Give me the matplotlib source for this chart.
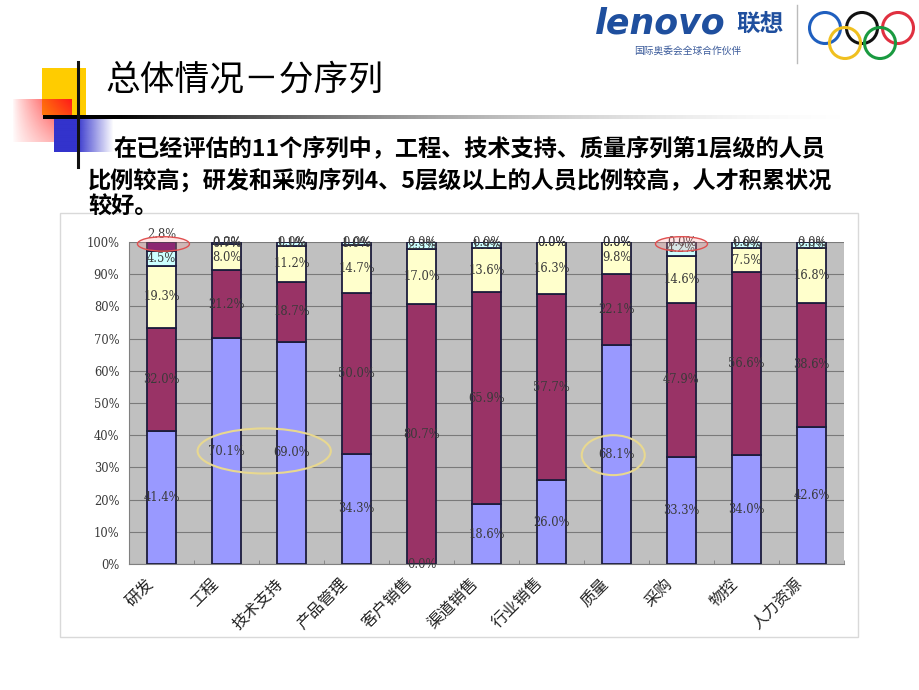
import numpy as np
import matplotlib.pyplot as plt
import matplotlib.transforms as mtransforms
from matplotlib.patches import Ellipse, Rectangle, Circle

plt.rcParams['font.family'] = ['Noto Sans CJK SC', 'DejaVu Sans']

categories = ['研发', '工程', '技术支持', '产品管理', '客户销售', '渠道销售',
              '行业销售', '质量', '采购', '物控', '人力资源']
level1 = [41.4, 70.1, 69.0, 34.3, 0.0, 18.6, 26.0, 68.1, 33.3, 34.0, 42.6]
level2 = [32.0, 21.2, 18.7, 50.0, 80.7, 65.9, 57.7, 22.1, 47.9, 56.6, 38.6]
level3 = [19.3, 8.0, 11.2, 14.7, 17.0, 13.6, 16.3, 9.8, 14.6, 7.5, 16.8]
level4 = [4.5, 0.7, 1.1, 1.0, 2.3, 1.9, 0.0, 0.0, 4.2, 1.9, 2.0]
level5 = [2.8, 0.0, 0.0, 0.0, 0.0, 0.0, 0.0, 0.0, 0.0, 0.0, 0.0]
yticks = [0, 10, 20, 30, 40, 50, 60, 70, 80, 90, 100]

title = '总体情况－分序列'
body = ['在已经评估的11个序列中，工程、技术支持、质量序列第1层级的人员',
        '比例较高；研发和采购序列4、5层级以上的人员比例较高，人才积累状况',
        '较好。']

levels = [level1, level2, level3, level4, level5]
colors = ['#9999FF', '#993366', '#FFFFCC', '#CCFFFF', '#660066']
label_font = dict(family='DejaVu Serif', fontsize=8.3, color='#3a3a3a')

fig = plt.figure(figsize=(9.2, 6.9), dpi=100)

# decoration layer in pixel coordinates
deco = fig.add_axes([0, 0, 1, 1], zorder=0)
deco.set_xlim(0, 920)
deco.set_ylim(690, 0)
deco.axis('off')

# yellow square
deco.add_patch(Rectangle((42, 68), 44, 47, color='#FFCC00', lw=0))
# red faded square
h, w = 50, 60
xx, yy = np.meshgrid(np.linspace(0, 1, w), np.linspace(0, 1, h))
red = np.zeros((h, w, 4))
red[..., 0] = 1.0
red[..., 1] = 0.1
red[..., 2] = 0.1
red[..., 3] = np.clip(xx ** 0.8 * (1 - 0.55 * yy), 0, 1)
deco.imshow(red, extent=(12, 72, 142, 99), aspect='auto', zorder=2)
# blue faded square
h, w = 40, 60
xx, yy = np.meshgrid(np.linspace(0, 1, w), np.linspace(0, 1, h))
blue = np.zeros((h, w, 4))
blue[..., 0] = 0.2
blue[..., 1] = 0.2
blue[..., 2] = 0.8
blue[..., 3] = np.clip(1.6 - 1.6 * xx, 0, 1)
deco.imshow(blue, extent=(54, 114, 152, 118), aspect='auto', zorder=2)
# horizontal gradient line
w = 400
line = np.zeros((1, w, 4))
fade = np.clip(np.linspace(-0.1, 1.05, w), 0, 1)
line[..., 0] = fade * 0.85
line[..., 1] = fade * 0.85
line[..., 2] = fade * 0.85
line[..., 3] = 1 - fade
deco.imshow(line, extent=(43, 880, 119, 115), aspect='auto', zorder=3)
# vertical line
deco.plot([78, 78], [62, 167], color='#111111', lw=2.2, zorder=4)

deco.text(105, 80, title, fontsize=25, va='center', ha='left', color='black')
deco.text(113, 150, body[0], fontsize=16.7, va='center', ha='left', color='black', fontweight='bold')
deco.text(88, 180, body[1], fontsize=16.7, va='center', ha='left', color='black', fontweight='bold')
deco.text(88, 207, body[2], fontsize=16.7, va='center', ha='left', color='black', fontweight='bold')

# logo area
deco.text(595, 24, 'lenovo', fontsize=25, fontweight='heavy', style='italic',
          family='DejaVu Sans', color='#1f4f9e', va='center', ha='left')
deco.text(736, 24, '联想', fontsize=17, fontweight='bold', color='#1f4f9e', va='center', ha='left')
deco.text(688, 51, '国际奥委会全球合作伙伴', fontsize=7, color='#3a5a9a', va='center', ha='center')
deco.plot([797, 797], [5, 63], color='#bbbbbb', lw=1)
for cx, cy, c in [(825, 28, '#1f5fbf'), (862, 28, '#111111'), (898, 28, '#e03040'),
                  (845, 43, '#f0c020'), (880, 43, '#1a9a40')]:
    deco.add_patch(Circle((cx, cy), 15.5, fill=False, ec=c, lw=2.2))

# chart frame
deco.add_patch(Rectangle((60, 213), 798, 424, fill=False, ec='#d9d9d9', lw=1))

# chart
ax = fig.add_axes([129 / 920, 126 / 690, 715 / 920, 322 / 690], zorder=2)
ax.set_facecolor('#C0C0C0')
x = np.arange(len(categories))
bottom = np.zeros(len(categories))
for k, (vals, col) in enumerate(zip(levels, colors)):
    vals = np.array(vals)
    ax.bar(x, vals, 0.44, bottom=bottom, color=col, edgecolor='#1c1c3c', lw=1.3, zorder=3)
    for i, v in enumerate(vals):
        if k == 4 and v > 0:
            ax.annotate(f'{v:.1f}%', (x[i], 100), xytext=(0, 1), textcoords='offset points',
                        ha='center', va='bottom', zorder=5, annotation_clip=False, **label_font)
        else:
            ax.text(x[i], bottom[i] + v / 2, f'{v:.1f}%', ha='center', va='center',
                    zorder=5, **label_font)
    bottom = bottom + vals

ax.set_xlim(-0.5, len(categories) - 0.5)
ax.set_ylim(0, 100)
ax.set_yticks(yticks)
ax.set_yticklabels([f'{t}%' for t in yticks], family='DejaVu Serif', fontsize=8.3, color='#3a3a3a')
ax.yaxis.grid(True, color='#7a7a7a', lw=0.8, zorder=1)
ax.set_axisbelow(True)
ax.tick_params(axis='y', length=0, pad=7)
ax.set_xticks(x)
ax.set_xticklabels(categories, rotation=45, ha='right', va='top', rotation_mode='anchor',
                   fontsize=11.5, color='#222222')
ax.tick_params(axis='x', length=0, pad=8)
shift = mtransforms.ScaledTranslation(-17 / 100, 0, fig.dpi_scale_trans)
for lab in ax.get_xticklabels():
    lab.set_transform(lab.get_transform() + shift)
ax.set_xticks(np.arange(len(categories)) + 0.5, minor=True)
ax.tick_params(axis='x', which='minor', length=3, direction='in', color='#808080')
for s in ['top', 'right']:
    ax.spines[s].set_visible(False)
ax.spines['left'].set_color('#808080')
ax.spines['bottom'].set_color('#808080')

# highlight ellipses
ax.add_patch(Ellipse((0.03, 99.4), 0.8, 4.5, fc=(1, 0.6, 0.6, 0.25), ec='#e05050', lw=1, zorder=6, clip_on=False))
ax.add_patch(Ellipse((8.0, 99.4), 0.8, 4.5, fc=(1, 0.6, 0.6, 0.25), ec='#e05050', lw=1, zorder=6, clip_on=False))
ax.add_patch(Ellipse((1.58, 35.1), 2.05, 14.0, fc='none', ec='#e8d890', lw=1.5, zorder=6))
ax.add_patch(Ellipse((6.95, 33.8), 0.97, 12.4, fc='none', ec='#e8d890', lw=1.5, zorder=6))

fig.savefig('out.png', dpi=100)
